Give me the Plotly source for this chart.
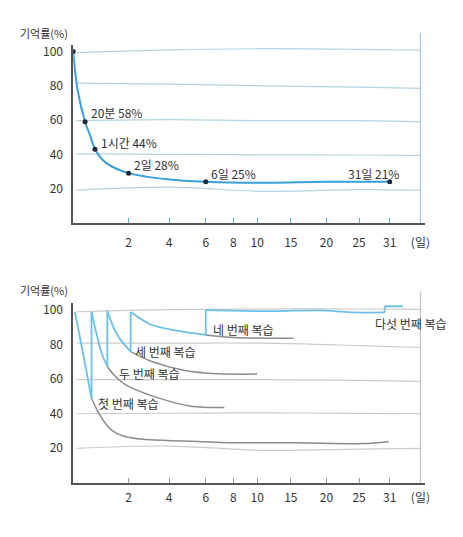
import numpy as np
import plotly.graph_objects as go

# 손으로 그린 x축 눈금 (일 -> 축 위치)
scale_days = [0, 20 / 1440, 1 / 24, 1, 2, 4, 6, 8, 10, 15, 20, 25, 31, 35]
scale_pos = [0, 12, 22, 34.5, 56, 97, 134, 162, 186, 220, 256, 289, 320, 351]

tick_days = [2, 4, 6, 8, 10, 15, 20, 25, 31, 35]
tick_text = ['2', '4', '6', '8', '10', '15', '20', '25', '31', '(일)']
y_ticks = [20, 40, 60, 80, 100]

# 망각 곡선 (위)
curve_days = [0, 0.005, 20 / 1440, 0.0297, 1 / 24, 0.9, 2, 4, 6, 10, 20, 31]
curve_vals = [100, 78, 59, 50, 43, 35, 29, 25.3, 24, 23.4, 24, 24]
point_days = [0, 20 / 1440, 1 / 24, 2, 6, 31]
point_vals = [100, 59, 43, 29, 24, 24]
point_text = ['', '20분 58%', '1시간 44%', '2일 28%', '6일 25%', '31일 21%']

# 복습 곡선 (아래)
review_days = [0.032, 1, 2.1, 6, 30]
blue_days = [
    [0.002, 0.0127, 0.032],
    [0.032, 0.18, 0.6, 1],
    [1, 1.38, 1.69, 2.1],
    [2.1, 3.12, 4.49, 6],
    [6, 10, 20, 24, 30],
    [30, 32.7],
]
blue_vals = [
    [99, 72, 49],
    [99, 85.7, 74.2, 67.4],
    [99.5, 87.6, 81.8, 76],
    [99, 91.6, 88, 85.7],
    [100, 99.5, 99.8, 98.7, 98.7],
    [102.3, 102.3],
]
grey_days = [
    [0.032, 0.218, 0.731, 1.15, 1.77, 2.73, 4.76, 7.93, 15.8, 25.8, 30.8],
    [1, 1.3, 1.85, 3.46, 5.2, 7.34],
    [2.1, 3.14, 4.85, 6.86, 10],
    [6, 8.05, 15.36],
]
grey_vals = [
    [49, 42, 35.7, 31, 27, 25.2, 24.2, 23.2, 23.2, 22.7, 23.8],
    [67.4, 62.6, 56.9, 49.2, 44.4, 43.6],
    [76, 70.3, 65.1, 63.2, 63],
    [85.7, 84.2, 83.8],
]
review_labels = ['첫 번째 복습', '두 번째 복습', '세 번째 복습', '네 번째 복습', '다섯 번째 복습']
label_days = [0.118, 1.44, 2.24, 6.36, 27.7]
label_vals = [46, 63.4, 76, 88.8, 92.2]

# 손그림 격자선
grid_days = [0.004, 4, 11, 25, 35]
grid_top = [
    [99.4, 101, 101.7, 101.3, 100.8],
    [81.6, 81, 80, 79.2, 78.5],
    [59.7, 60.3, 59.7, 59.7, 59.1],
    [40.3, 40, 39.7, 39.6, 39.4],
    [19, 20.8, 18.4, 19.4, 19],
]
grid_bottom = [
    [99.1, 100.3, 100.7, 100.7, 100.5],
    [80.9, 80.9, 80.9, 79.5, 78.4],
    [59.8, 59.8, 59.8, 59.3, 58.8],
    [40, 40.3, 40.5, 40.2, 40],
    [20, 21.3, 18.8, 19.5, 20],
]


def xp(days):
    return np.interp(days, scale_days, scale_pos)


FONT = 'Noto Sans CJK KR, sans-serif'
BLUE = '#3a9fd6'
LBLUE = '#6cc0e8'
GREY = '#8c8c8c'

fig = go.Figure()

for g in grid_top:
    fig.add_trace(go.Scatter(x=xp(grid_days), y=g, mode='lines', line_shape='spline',
                             line=dict(color='#b5d2e0', width=1.2), xaxis='x', yaxis='y'))
for g in grid_bottom:
    fig.add_trace(go.Scatter(x=xp(grid_days), y=g, mode='lines', line_shape='spline',
                             line=dict(color='#cacaca', width=1.2), xaxis='x2', yaxis='y2'))

fig.add_trace(go.Scatter(x=xp(curve_days), y=curve_vals, mode='lines',
                         line=dict(color=BLUE, width=2, shape='spline', smoothing=0.8),
                         xaxis='x', yaxis='y'))
fig.add_trace(go.Scatter(x=xp(point_days), y=point_vals, mode='markers',
                         marker=dict(color='#1b2a3a', size=5), xaxis='x', yaxis='y'))

for d, v in zip(grey_days, grey_vals):
    fig.add_trace(go.Scatter(x=xp(d), y=v, mode='lines',
                             line=dict(color=GREY, width=1.5, shape='spline', smoothing=0.8),
                             xaxis='x2', yaxis='y2'))
for d, v in zip(blue_days, blue_vals):
    fig.add_trace(go.Scatter(x=xp(d), y=v, mode='lines',
                             line=dict(color=LBLUE, width=1.8, shape='spline', smoothing=0.8),
                             xaxis='x2', yaxis='y2'))

# 복습 시점의 수직 상승
jx, jy = [], []
for i in range(len(blue_days) - 1):
    jx += [blue_days[i][-1], blue_days[i + 1][0], None]
    jy += [blue_vals[i][-1], blue_vals[i + 1][0], None]
jx = [None if d is None else float(xp(d)) for d in jx]
fig.add_trace(go.Scatter(x=jx, y=jy, mode='lines', line=dict(color=LBLUE, width=1.8),
                         xaxis='x2', yaxis='y2'))

ann = []
shifts = [(0, 0), (4, 9), (4, 7), (3, 9), (3, 8), (11, 8)]
for d, v, t, (sx, sy) in zip(point_days, point_vals, point_text, shifts):
    if not t:
        continue
    ann.append(dict(x=float(xp(d)), y=v, xref='x', yref='y', text=t, showarrow=False,
                    xanchor='right' if t.startswith('31') else 'left', yanchor='middle',
                    xshift=sx, yshift=sy))
for d, v, t in zip(label_days, label_vals, review_labels):
    ann.append(dict(x=float(xp(d)), y=v, xref='x2', yref='y2', text=t, showarrow=False,
                    xanchor='left', yanchor='middle'))
for yy in [1 - 30 / 537, 1 - 289 / 537]:
    ann.append(dict(x=18 / 463, y=yy, xref='paper', yref='paper', text='기억률(%)',
                    showarrow=False, xanchor='left', yanchor='middle', font=dict(size=11)))

shapes = [
    dict(type='line', xref='x', yref='paper', x0=351, x1=351, y0=1 - 221 / 537, y1=1 - 30 / 537,
         line=dict(color='#a9cde0', width=1.3)),
    dict(type='line', xref='x2', yref='paper', x0=351, x1=351, y0=1 - 482.5 / 537, y1=1 - 290 / 537,
         line=dict(color='#c4c4c4', width=1.3)),
]

xdom = [74 / 463, 430 / 463]
common_x = dict(domain=xdom, range=[0, 356], tickvals=list(xp(tick_days)), ticktext=tick_text,
                showline=True, linecolor='#555555', linewidth=1.6, ticks='inside', ticklen=5,
                showgrid=False, zeroline=False)
common_y = dict(range=[0, 104], tickvals=y_ticks, showline=True, linecolor='#555555',
                linewidth=1.6, ticks='', showgrid=False, zeroline=False, ticklabelstandoff=6)

fig.update_layout(
    width=463, height=537,
    margin=dict(l=0, r=0, t=0, b=0),
    paper_bgcolor='white', plot_bgcolor='white',
    showlegend=False,
    font=dict(family=FONT, size=12, color='#333333'),
    xaxis=dict(common_x, anchor='y', tickcolor='#5aaed8', ticklabelstandoff=8),
    yaxis=dict(common_y, domain=[1 - 221 / 537, 1 - 42 / 537], anchor='x'),
    xaxis2=dict(common_x, anchor='y2', tickcolor='#999999', ticklabelstandoff=3),
    yaxis2=dict(common_y, domain=[1 - 482.5 / 537, 1 - 302 / 537], anchor='x2'),
    annotations=ann,
    shapes=shapes,
)
fig.update_traces(hoverinfo='skip')

fig.write_html("out.html", config={'displayModeBar': False},
               post_script="document.body.style.margin='0';")
